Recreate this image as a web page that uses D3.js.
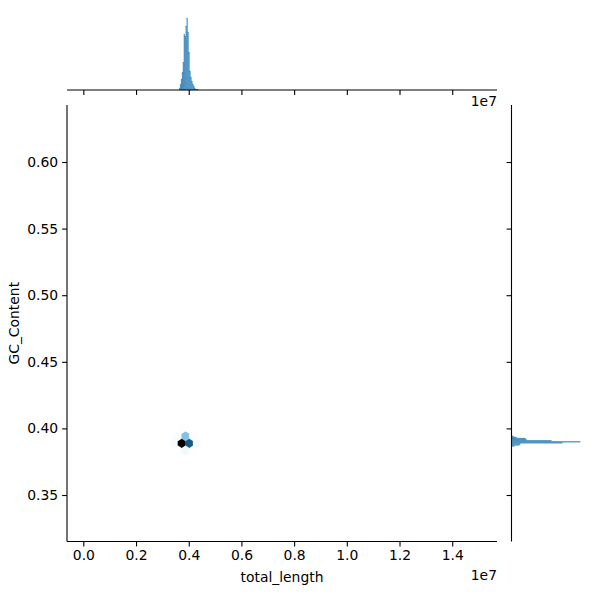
<!DOCTYPE html>
<html><head><meta charset="utf-8">
<script src="https://cdn.jsdelivr.net/npm/d3@7"></script>
<style>body{margin:0;background:#fff}text{font-family:"DejaVu Sans",sans-serif;fill:#000}</style>
</head><body>
<svg id="c" width="600" height="600"></svg>
<script>
// ---- data ----
const xTicks = [0, 0.2e7, 0.4e7, 0.6e7, 0.8e7, 1.0e7, 1.2e7, 1.4e7];
const xTickLabels = ["0.0","0.2","0.4","0.6","0.8","1.0","1.2","1.4"];
const yTicks = [0.35, 0.40, 0.45, 0.50, 0.55, 0.60];
const yTickLabels = ["0.35","0.40","0.45","0.50","0.55","0.60"];
const xLabel = "total_length", yLabel = "GC_Content", offsetLabel = "1e7";

// hexbin cells (centre total_length, centre GC_Content, count)
const hexX     = [3.445e6, 3.734e6, 4.023e6, 4.312e6, 12.98e6, 3.589e6, 3.878e6, 4.167e6, 3.589e6, 3.878e6, 4.167e6, 3.734e6, 4.023e6];
const hexY     = [0.3888,  0.3888,  0.3888,  0.3888,  0.3888,  0.3943,  0.3943,  0.3943,  0.3833,  0.3833,  0.3833,  0.3998,  0.3998];
const hexCount = [12,      520,     360,     14,      4,       10,      150,     8,       6,       18,      5,       5,       3];

// top marginal histogram (total_length)
const topBinStart = [3.600e6,3.636e6,3.672e6,3.708e6,3.744e6,3.780e6,3.816e6,3.852e6,3.888e6,3.924e6,3.960e6,3.996e6,4.032e6,4.068e6,4.104e6,4.140e6,4.176e6,4.212e6,4.248e6,4.284e6,4.320e6,4.356e6];
const topCounts   = [0,4,12,22,36,56,112,108,128,144,116,76,38,26,18,12,8,4,2,1,2,0];
const topBinWidth = 36000;

// right marginal histogram (GC_Content)
const rightBinStart = [0.3864,0.3872,0.3880,0.3888,0.3896,0.3904,0.3912,0.3920,0.3928,0.3936];
const rightCounts   = [14,36,40,230,310,180,68,63,22,9];
const rightBinWidth = 0.0008;

// ---- layout ----
const svg = d3.select("#c");
const J = {l:67, r:497, t:105, b:541.5};
const x = d3.scaleLinear().domain([-0.062e7, 1.570e7]).range([J.l, J.r]);
const y = d3.scaleLinear().domain([0.3151, 0.6428]).range([J.b, J.t]);
const yTop = d3.scaleLinear().domain([0, 174]).range([90, 3]);
const xRight = d3.scaleLinear().domain([0, 386]).range([511.5, 597]);

// hex colour: seaborn blend white -> C0 -> black
const lScale = d3.scaleLinear().domain([d3.min(hexCount), d3.max(hexCount)]).range([1, 0]);
const col = c => d3.hsl(204.6, 0.706, lScale(c)).formatHex();
const sx = 2.89e5, sy = 0.01096;
const hexPts = [[0.5,-0.5],[0.5,0.5],[0,1],[-0.5,0.5],[-0.5,-0.5],[0,-1]];
const g = svg.append("g");
hexX.forEach((hx,i) => {
  const pts = hexPts.map(([a,b]) => [x(hx + a*sx), y(hexY[i] + b*sy/3)]);
  g.append("polygon").attr("points", pts.map(p=>p.join(",")).join(" "))
    .attr("fill", col(hexCount[i])).attr("stroke", col(hexCount[i])).attr("stroke-width", 0.4);
});

// joint axes
const xAxis = d3.axisBottom(x).tickValues(xTicks).tickFormat((d,i)=>xTickLabels[i]).tickSize(4.9).tickPadding(4);
const yAxis = d3.axisLeft(y).tickValues(yTicks).tickFormat((d,i)=>yTickLabels[i]).tickSize(4.9).tickPadding(4);
function style(sel){
  sel.select(".domain").attr("stroke","#000").attr("stroke-width",1.1);
  sel.selectAll(".tick line").attr("stroke","#000").attr("stroke-width",1.1);
  sel.selectAll(".tick text").attr("font-size","13.9px").attr("font-family","DejaVu Sans").attr("fill","#000");
}
const gx = svg.append("g").attr("transform",`translate(0,${J.b})`).call(xAxis).call(style);
gx.select(".domain").attr("d",`M${J.l},0H${J.r}`);
const gy = svg.append("g").attr("transform",`translate(${J.l},0)`).call(yAxis).call(style);
gy.select(".domain").attr("d",`M0,${J.b}V${J.t}`);

svg.append("text").attr("x",(J.l+J.r)/2).attr("y",582).attr("text-anchor","middle").attr("font-size","13.9px").text(xLabel);
svg.append("text").attr("transform",`translate(19,${(J.t+J.b)/2}) rotate(-90)`).attr("text-anchor","middle").attr("font-size","13.9px").text(yLabel);
svg.append("text").attr("x",J.r).attr("y",580).attr("text-anchor","end").attr("font-size","13.9px").text(offsetLabel);

// top marginal
svg.append("g").selectAll("rect").data(topCounts).join("rect")
  .attr("x",(d,i)=>x(topBinStart[i])).attr("width",(d,i)=>x(topBinStart[i]+topBinWidth)-x(topBinStart[i]))
  .attr("y",d=>yTop(d)).attr("height",d=>yTop(0)-yTop(d))
  .attr("fill","#1f77b4").attr("fill-opacity",0.75).attr("stroke","#1f77b4").attr("stroke-opacity",0.6).attr("stroke-width",0.3);
const gtx = svg.append("g").attr("transform","translate(0,90)").call(d3.axisBottom(x).tickValues(xTicks).tickFormat("").tickSize(4.9)).call(style);
gtx.select(".domain").attr("d",`M${J.l},0H${J.r}`);
svg.append("text").attr("x",J.r).attr("y",106).attr("text-anchor","end").attr("font-size","13.9px").text(offsetLabel);

// right marginal
svg.append("g").selectAll("rect").data(rightCounts).join("rect")
  .attr("y",(d,i)=>y(rightBinStart[i]+rightBinWidth)).attr("height",(d,i)=>y(rightBinStart[i])-y(rightBinStart[i]+rightBinWidth))
  .attr("x",xRight(0)).attr("width",d=>xRight(d)-xRight(0))
  .attr("fill","#1f77b4").attr("fill-opacity",0.75).attr("stroke","#1f77b4").attr("stroke-opacity",0.6).attr("stroke-width",0.3);
const gry = svg.append("g").attr("transform",`translate(${xRight(0)},0)`).call(d3.axisLeft(y).tickValues(yTicks).tickFormat("").tickSize(4.9)).call(style);
gry.select(".domain").attr("d",`M0,${J.b}V${J.t}`);
</script>
</body></html>
